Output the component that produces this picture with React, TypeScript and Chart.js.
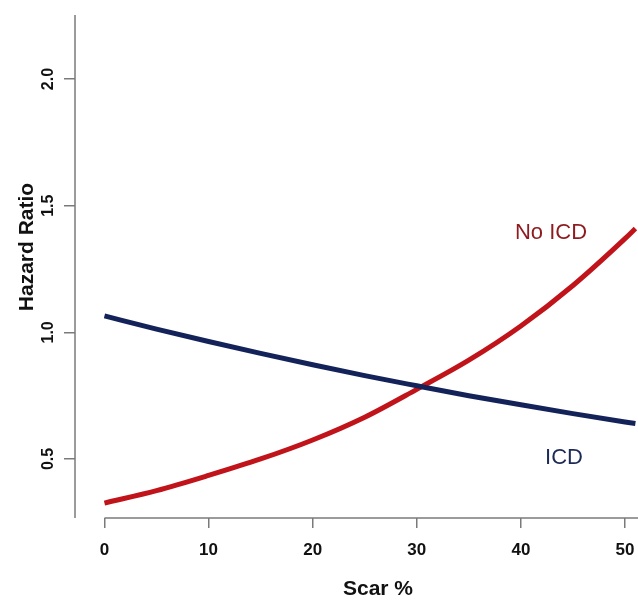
import React, { useEffect, useRef } from "react";
import { Chart, registerables } from "chart.js";

Chart.register(...registerables);

const scarPct = [0, 5, 10, 15, 20, 25, 30, 35, 40, 45, 50, 51];
const icdHR = [1.065, 1.013, 0.964, 0.917, 0.872, 0.829, 0.789, 0.75, 0.714, 0.679, 0.646, 0.64];
const noIcdHR = [0.326, 0.375, 0.435, 0.5, 0.575, 0.665, 0.775, 0.89, 1.025, 1.185, 1.37, 1.41];
const xTicks = [0, 10, 20, 30, 40, 50];
const yTicks = [0.5, 1.0, 1.5, 2.0];

const FONT = "'Liberation Sans', Arial, sans-serif";

export default function App() {
  const ref = useRef<HTMLCanvasElement>(null);
  useEffect(() => {
    if (!ref.current) return;
    const axisPlugin = {
      id: "rAxes",
      afterDraw(chart: any) {
        const { ctx, chartArea, scales } = chart;
        const xs = scales.x;
        const ys = scales.y;
        ctx.save();
        ctx.strokeStyle = "#7a7a7a";
        ctx.lineWidth = 1.5;
        ctx.beginPath();
        ctx.moveTo(xs.getPixelForValue(0), chartArea.bottom);
        ctx.lineTo(chart.width, chartArea.bottom);
        ctx.stroke();
        ctx.beginPath();
        ctx.moveTo(chartArea.left, chartArea.top);
        ctx.lineTo(chartArea.left, chartArea.bottom);
        ctx.stroke();
        ctx.fillStyle = "#111";
        ctx.font = `bold 16px ${FONT}`;
        ctx.textAlign = "center";
        ctx.textBaseline = "middle";
        for (const v of yTicks) {
          const py = ys.getPixelForValue(v);
          ctx.save();
          ctx.translate(49, py);
          ctx.rotate(-Math.PI / 2);
          ctx.fillText(v.toFixed(1), 0, 0);
          ctx.restore();
        }
        ctx.font = `bold 21px ${FONT}`;
        ctx.save();
        ctx.translate(27, 247);
        ctx.rotate(-Math.PI / 2);
        ctx.fillText("Hazard Ratio", 0, 0);
        ctx.restore();
        ctx.fillText("Scar %", 378, 589);
        ctx.font = `22px ${FONT}`;
        ctx.fillStyle = "#8e1b1f";
        ctx.fillText("No ICD", 551, 233);
        ctx.fillStyle = "#1c2a55";
        ctx.fillText("ICD", 564, 458);
        ctx.restore();
      },
    };

    const chart = new Chart(ref.current, {
      type: "line",
      data: {
        datasets: [
          {
            label: "ICD",
            data: scarPct.map((x, i) => ({ x, y: icdHR[i] })),
            borderColor: "#13235a",
            borderWidth: 5,
            pointRadius: 0,
            cubicInterpolationMode: "monotone",
          },
          {
            label: "No ICD",
            data: scarPct.map((x, i) => ({ x, y: noIcdHR[i] })),
            borderColor: "#c0141a",
            borderWidth: 5,
            pointRadius: 0,
            cubicInterpolationMode: "monotone",
          },
        ],
      },
      options: {
        animation: false,
        responsive: false,
        devicePixelRatio: 1,
        layout: { padding: { top: 15, left: 0, right: 0, bottom: 0 } },
        plugins: { legend: { display: false }, tooltip: { enabled: false } },
        scales: {
          x: {
            type: "linear",
            min: -2.83,
            max: 51.25,
            afterBuildTicks: (s: any) => {
              s.ticks = xTicks.map((v) => ({ value: v }));
            },
            afterFit: (s: any) => {
              s.height = 82;
              s.paddingLeft = 0;
              s.paddingRight = 0;
            },
            border: { display: false },
            grid: {
              display: true,
              drawOnChartArea: false,
              drawTicks: true,
              tickLength: 10,
              color: "#7a7a7a",
              lineWidth: 1.5,
            },
            ticks: {
              color: "#111",
              font: { family: FONT, size: 17, weight: "bold" },
              padding: 12,
              maxRotation: 0,
              callback: (v: any) => String(v),
            },
          },
          y: {
            type: "linear",
            min: 0.267,
            max: 2.253,
            afterBuildTicks: (s: any) => {
              s.ticks = yTicks.map((v) => ({ value: v }));
            },
            afterFit: (s: any) => {
              s.width = 75;
              s.paddingTop = 0;
              s.paddingBottom = 0;
            },
            border: { display: false },
            grid: {
              display: true,
              drawOnChartArea: false,
              drawTicks: true,
              tickLength: 11,
              color: "#7a7a7a",
              lineWidth: 1.5,
            },
            ticks: { display: false },
          },
        },
      },
      plugins: [axisPlugin],
    } as any);
    return () => chart.destroy();
  }, []);
  return (
    <div style={{ position: "fixed", left: 0, top: 0, width: 638, height: 600, background: "#fff" }}>
      <canvas ref={ref} width={638} height={600} />
    </div>
  );
}
